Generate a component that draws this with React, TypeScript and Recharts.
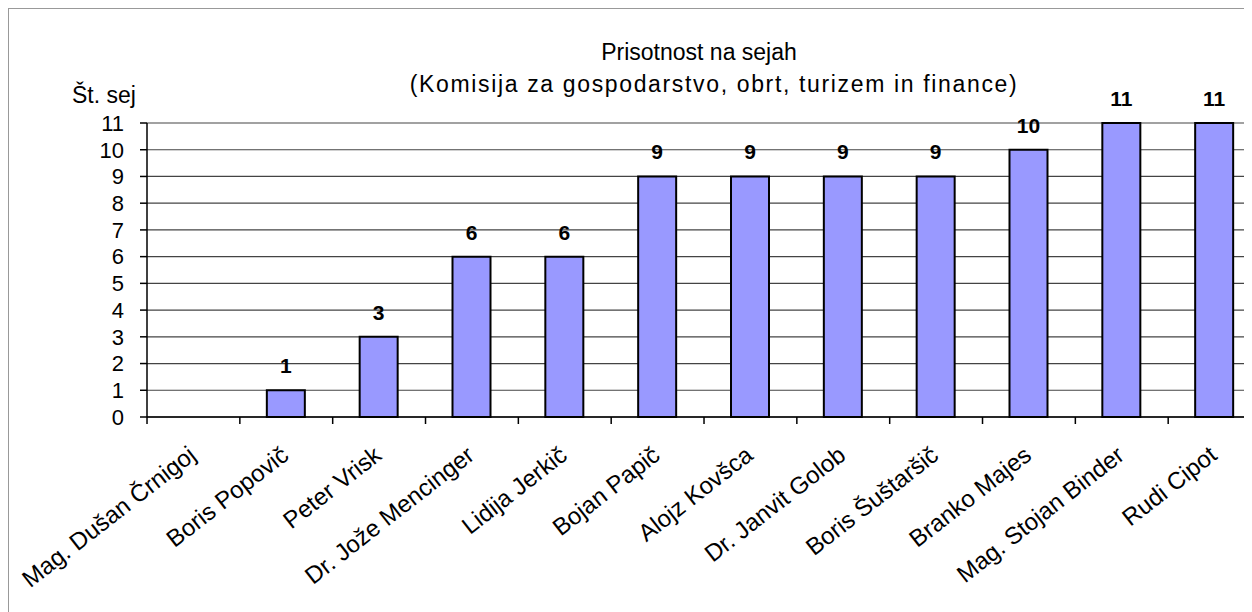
import { BarChart, Bar, XAxis, YAxis, CartesianGrid, LabelList } from "recharts";

const NAMES = [
  "Mag. Dušan Črnigoj",
  "Boris Popovič",
  "Peter Vrisk",
  "Dr. Jože Mencinger",
  "Lidija Jerkič",
  "Bojan Papič",
  "Alojz Kovšca",
  "Dr. Janvit Golob",
  "Boris Šuštaršič",
  "Branko Majes",
  "Mag. Stojan Binder",
  "Rudi Cipot",
];
const SESSIONS = [0, 1, 3, 6, 6, 9, 9, 9, 9, 10, 11, 11];
const Y_TICKS = [0, 1, 2, 3, 4, 5, 6, 7, 8, 9, 10, 11];

const data = NAMES.map((name, i) => ({ name, sessions: SESSIONS[i] }));

const FONT = "'Liberation Sans', Arial, sans-serif";
const BAND = 92.8;

function NameTick(props: any) {
  const { x, y, payload, index } = props;
  const ax = 417 - 9; // axis line y in svg coords
  const tx = x + 4;
  const ty = y + 33;
  return (
    <g>
      <line x1={x - BAND / 2} y1={ax} x2={x - BAND / 2} y2={ax + 7} stroke="#000" strokeWidth={1.5} />
      {index === NAMES.length - 1 && (
        <line x1={x + BAND / 2} y1={ax} x2={x + BAND / 2} y2={ax + 7} stroke="#000" strokeWidth={1.5} />
      )}
      <text
        x={tx}
        y={ty}
        textAnchor="end"
        fontSize={24}
        fontFamily={FONT}
        fill="#000"
        transform={`rotate(-38, ${tx}, ${ty})`}
      >
        {payload.value}
      </text>
    </g>
  );
}

export default function App() {
  return (
    <div
      style={{
        position: "relative",
        width: 1243,
        height: 603,
        overflow: "hidden",
        borderTop: "1px solid #999",
        borderLeft: "1px solid #999",
        background: "#fff",
        fontFamily: FONT,
      }}
    >
      <div style={{ position: "absolute", left: 0, width: 1380, top: 30, textAlign: "center", fontSize: 23, color: "#000" }}>
        Prisotnost na sejah
      </div>
      <div style={{ position: "absolute", left: 0, width: 1410, top: 62, textAlign: "center", fontSize: 23, letterSpacing: 1.65, color: "#000" }}>
        (Komisija za gospodarstvo, obrt, turizem in finance)
      </div>
      <div style={{ position: "absolute", left: 63, top: 73, fontSize: 23, color: "#000" }}>Št. sej</div>
      <BarChart
        width={1252}
        height={603}
        data={data}
        margin={{ top: 114, right: 0, bottom: 0, left: 0 }}
        barCategoryGap={0}
      >
        <CartesianGrid vertical={false} stroke="#444" strokeWidth={1.2} />
        <XAxis
          dataKey="name"
          interval={0}
          height={195}
          tickLine={false}
          axisLine={{ stroke: "#000", strokeWidth: 1.5 }}
          tick={<NameTick />}
        />
        <YAxis
          domain={[0, 11]}
          ticks={Y_TICKS}
          interval={0}
          width={138}
          tickSize={7}
          tickMargin={16}
          axisLine={{ stroke: "#000", strokeWidth: 1.5 }}
          tickLine={{ stroke: "#000", strokeWidth: 1.5 }}
          tick={{ fontSize: 22, fontFamily: FONT, fill: "#000" }}
        />
        <Bar dataKey="sessions" fill="#9999FF" stroke="#000" strokeWidth={2} barSize={38} isAnimationActive={false}>
          <LabelList
            dataKey="sessions"
            position="top"
            offset={17}
            style={{ fontSize: 21, fontWeight: "bold", fontFamily: FONT, fill: "#000" }}
          />
        </Bar>
      </BarChart>
    </div>
  );
}
